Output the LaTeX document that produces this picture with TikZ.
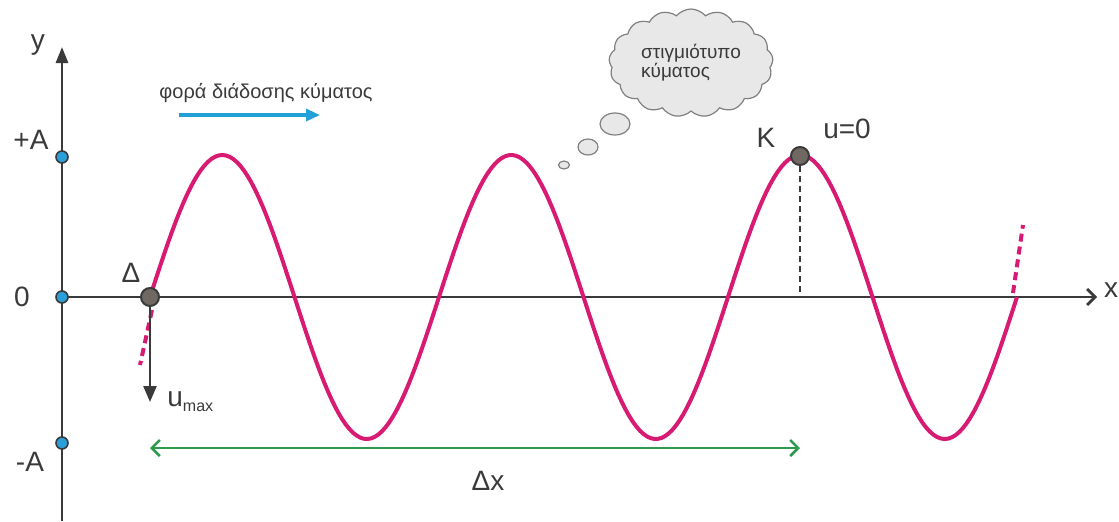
\documentclass[tikz,border=0pt]{standalone}
\usepackage{fontspec}
\setmainfont{Liberation Sans}
\usepackage{xcolor}
\usepackage{tikz}
\usetikzlibrary{arrows.meta,calc,shapes.symbols,shapes.geometric}
\definecolor{wavemagenta}{HTML}{D81B72}
\definecolor{axisgray}{HTML}{3A3A3A}
\definecolor{dotblue}{HTML}{2B9FD9}
\definecolor{pointgray}{HTML}{6F6863}
\definecolor{spangreen}{HTML}{2E9A4E}
\definecolor{propblue}{HTML}{22A0D8}
\definecolor{cloudfill}{HTML}{E8E8E8}

\begin{document}
\begin{tikzpicture}[x=0.5pt,y=-0.5pt,
    axis/.style={line width=1.4pt,axisgray},
    axisdot/.style={circle,draw=axisgray,fill=dotblue,line width=0.8pt,inner sep=0pt,minimum size=6pt},
    bigdot/.style={circle,draw=axisgray,fill=pointgray,line width=1pt,inner sep=0pt,minimum size=9pt},
    wave/.style={line width=2pt,wavemagenta},
    lbl/.style={font=\fontsize{14}{16}\selectfont,text=axisgray,inner sep=0pt},
    bubble/.style={ellipse,draw=gray,fill=cloudfill,line width=0.6pt,inner sep=0pt}]
    \useasboundingbox (0,0) rectangle (1119,521);
    \coordinate (O) at (62,297);
    \coordinate (ytop) at (62,47);
    \coordinate (ybot) at (62,521);
    \coordinate (xend) at (1097,297);
    \draw[axis,-{Triangle[length=8pt,width=6pt]}] (ybot) -- (ytop);
    \draw[axis,-{Straight Barb[length=4pt,width=8pt]}] (O) -- (xend);
    \node[lbl] (ylab) at (38,45) {y};
    \node[lbl] (xlab) at (1111,290) {x};
    % wave snapshot
    \draw[wave] plot[domain=150:1017,samples=240] (\x,{297-142*sin((\x-150)/289*360)});
    \coordinate (dLa) at (152,310);
    \coordinate (dLb) at (140,365);
    \coordinate (dRa) at (1013,293);
    \coordinate (dRb) at (1023,225);
    \draw[wave,dash pattern=on 4pt off 2.5pt] (dLa) -- (dLb);
    \draw[wave,dash pattern=on 4pt off 2.5pt] (dRa) -- (dRb);
    % axis marks
    \node[axisdot] (pA) at (62,157) {};
    \node[axisdot] (zero) at (O) {};
    \node[axisdot] (mA) at (62,443) {};
    \node[lbl] (lpA) at (31,140) {+A};
    \node[lbl] (lzero) at (22,297) {0};
    \node[lbl] (lmA) at (30,462) {-A};
    % points
    \coordinate (vtip) at (150,402);
    \draw[line width=1.2pt,axisgray,-{Triangle[length=8pt,width=6.5pt]}] (150,297) -- (vtip);
    \node[bigdot] (D) at (150,297) {};
    \node[bigdot] (K) at (800,156) {};
    \draw[line width=0.8pt,axisgray,dash pattern=on 3pt off 2pt] (K) -- (K |- O);
    \node[lbl] (lD) at (131,273) {Δ};
    \node[lbl] (lK) at (766,138) {K};
    \node[lbl] (lu) at (847,129) {u=0};
    \node[lbl,anchor=west] (lumax) at (167,402) {u\raisebox{-0.35ex}{\fontsize{8}{9}\selectfont max}};
    % span
    \coordinate (gL) at (150,448);
    \coordinate (gR) at (800,448);
    \draw[spangreen,line width=1.3pt,{Straight Barb[length=4pt,width=8pt]}-{Straight Barb[length=4pt,width=8pt]}] (gL) -- (gR);
    \node[lbl] (ldx) at (488,481) {Δx};
    % direction
    \node[lbl,font=\fontsize{10}{12}\selectfont] (dir) at (266,93) {φορά διάδοσης κύματος};
    \coordinate (bL) at (179,115);
    \coordinate (bR) at (320,115);
    \draw[propblue,line width=1.6pt,-{Triangle[length=7pt,width=6pt]}] (bL) -- (bR);
    % thought cloud
    \node[cloud,cloud puffs=17,cloud puff arc=100,aspect=1.9,draw=gray,fill=cloudfill,line width=0.6pt,
      minimum width=82pt,minimum height=54pt,inner sep=0pt,align=left,
      font=\fontsize{9.5}{9.5}\selectfont,text=axisgray] (snap) at (691,63) {στιγμιότυπο\\κύματος};
    \node[bubble,minimum width=15pt,minimum height=11pt] (b1) at (615,124) {};
    \node[bubble,minimum width=10pt,minimum height=8pt] (b2) at (588,147) {};
    \node[bubble,minimum width=5.5pt,minimum height=4pt] (b3) at (564,165) {};
\end{tikzpicture}
\end{document}
